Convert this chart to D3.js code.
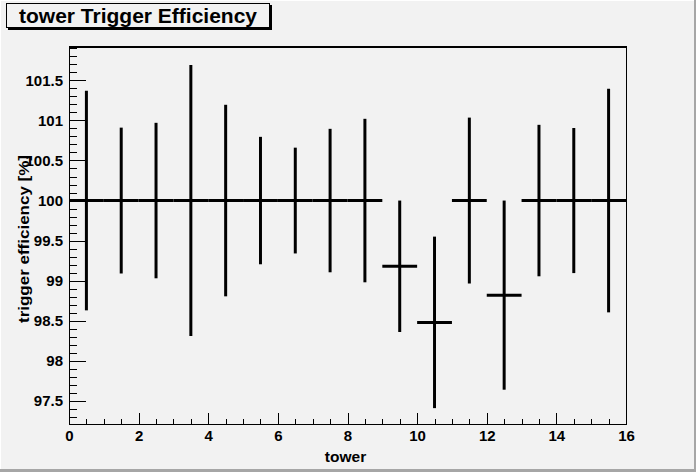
<!DOCTYPE html>
<html>
<head>
<meta charset="utf-8">
<script src="https://cdn.jsdelivr.net/npm/d3@7"></script>
<style>
  html, body { margin: 0; padding: 0; background: #f2f2f2; }
  svg { display: block; font-family: "Liberation Sans", Arial, Helvetica, sans-serif; font-weight: bold; }
</style>
</head>
<body>
<svg id="chart" width="696" height="472"></svg>
<script>
// ---- data ----
const binLow    = [0, 1, 2, 3, 4, 5, 6, 7, 8, 9, 10, 11, 12, 13, 14, 15];
const binCenter = [0.5, 1.5, 2.5, 3.5, 4.5, 5.5, 6.5, 7.5, 8.5, 9.5, 10.5, 11.5, 12.5, 13.5, 14.5, 15.5];
const efficiency = [100, 100, 100, 100, 100, 100, 100, 100, 100, 99.18, 98.48, 100, 98.82, 100, 100, 100];
const errors     = [1.37, 0.91, 0.97, 1.69, 1.195, 0.795, 0.66, 0.895, 1.02, 0.82, 1.07, 1.035, 1.18, 0.945, 0.905, 1.395];
const xMajorTicks = [0, 2, 4, 6, 8, 10, 12, 14, 16];
const xMinorTicks = [0.5, 1, 1.5, 2.5, 3, 3.5, 4.5, 5, 5.5, 6.5, 7, 7.5, 8.5, 9, 9.5, 10.5, 11, 11.5, 12.5, 13, 13.5, 14.5, 15, 15.5];
const yMajorTicks = [97.5, 98, 98.5, 99, 99.5, 100, 100.5, 101, 101.5];
const yMinorTicks = [97.3, 97.4, 97.6, 97.7, 97.8, 97.9, 98.1, 98.2, 98.3, 98.4, 98.6, 98.7, 98.8, 98.9,
                     99.1, 99.2, 99.3, 99.4, 99.6, 99.7, 99.8, 99.9, 100.1, 100.2, 100.3, 100.4,
                     100.6, 100.7, 100.8, 100.9, 101.1, 101.2, 101.3, 101.4, 101.6, 101.7, 101.8, 101.9];
const titleText = "tower Trigger Efficiency";
const xTitle = "tower";
const yTitle = "trigger efficiency [%]";

// ---- layout ----
const W = 696, H = 472;
const L = 69, R = 626, T = 47, B = 424;
const svg = d3.select("#chart");

// canvas background + bevel
svg.append("rect").attr("x", 0).attr("y", 0).attr("width", W).attr("height", H).attr("fill", "#f2f2f2");
svg.append("rect").attr("x", W - 2).attr("y", 0).attr("width", 2).attr("height", H).attr("fill", "#a6a6a6");
svg.append("rect").attr("x", 0).attr("y", H - 3).attr("width", W).attr("height", 3).attr("fill", "#a6a6a6");
svg.append("rect").attr("x", 0).attr("y", 0).attr("width", W - 2).attr("height", 1).attr("fill", "#ffffff");
svg.append("rect").attr("x", 0).attr("y", 0).attr("width", 1).attr("height", H - 3).attr("fill", "#ffffff");

const x = d3.scaleLinear().domain([0, 16]).range([L, R]);
const y = d3.scaleLinear().domain([97.212, 101.916]).range([B, T]);

// frame
svg.append("rect").attr("x", L).attr("y", T).attr("width", R - L).attr("height", B - T)
  .attr("fill", "none").attr("stroke", "#000").attr("stroke-width", 1).attr("shape-rendering", "crispEdges");
svg.append("line").attr("x1", L).attr("x2", R + 0.5).attr("y1", T).attr("y2", T)
  .attr("stroke", "#000").attr("stroke-width", 2).attr("shape-rendering", "crispEdges");

// axes
function styleAxis(g) {
  g.select(".domain").remove();
  g.selectAll(".tick line").attr("stroke", "#000").attr("stroke-width", 1).attr("shape-rendering", "crispEdges");
  g.selectAll(".tick text").attr("fill", "#000").attr("font-size", 15).attr("font-weight", "bold");
}
svg.append("g").attr("transform", `translate(0,${B})`)
  .call(d3.axisBottom(x).tickValues(xMajorTicks).tickSize(-11).tickPadding(6).tickFormat(d3.format("d")))
  .call(styleAxis);
svg.append("g").attr("transform", `translate(0,${B})`)
  .call(d3.axisBottom(x).tickValues(xMinorTicks).tickSize(-5.5).tickFormat(""))
  .call(styleAxis);
svg.append("g").attr("transform", `translate(${L},0)`)
  .call(d3.axisLeft(y).tickValues(yMajorTicks).tickSize(-17).tickPadding(6).tickFormat(d => String(d)))
  .call(styleAxis);
svg.append("g").attr("transform", `translate(${L},0)`)
  .call(d3.axisLeft(y).tickValues(yMinorTicks).tickSize(-8).tickFormat(""))
  .call(styleAxis);

// data: horizontal bin-width bars + vertical error bars
const marks = svg.append("g").attr("stroke", "#000").attr("stroke-width", 3);
marks.selectAll("line.h").data(binLow).join("line").attr("class", "h")
  .attr("x1", (d) => x(d)).attr("x2", (d) => x(d + 1))
  .attr("y1", (d, i) => y(efficiency[i])).attr("y2", (d, i) => y(efficiency[i]));
marks.selectAll("line.v").data(binCenter).join("line").attr("class", "v")
  .attr("x1", (d) => x(d)).attr("x2", (d) => x(d))
  .attr("y1", (d, i) => y(efficiency[i] + errors[i])).attr("y2", (d, i) => y(efficiency[i] - errors[i]));

// axis titles
svg.append("text").attr("x", 345.5).attr("y", 462).attr("text-anchor", "middle")
  .attr("font-size", 15.5).attr("fill", "#000").text(xTitle);
svg.append("text").attr("transform", `translate(29,239) rotate(-90)`).attr("text-anchor", "middle")
  .attr("font-size", 15.5).attr("textLength", 168).attr("lengthAdjust", "spacingAndGlyphs")
  .attr("fill", "#000").text(yTitle);

// title box with shadow
svg.append("rect").attr("x", 8).attr("y", 5).attr("width", 264).attr("height", 25).attr("fill", "#000");
svg.append("rect").attr("x", 6.5).attr("y", 3.5).attr("width", 263).attr("height", 24)
  .attr("fill", "#f2f2f2").attr("stroke", "#000").attr("stroke-width", 1);
svg.append("text").attr("x", 19).attr("y", 22.5)
  .attr("font-size", 20).attr("textLength", 238).attr("lengthAdjust", "spacingAndGlyphs")
  .attr("fill", "#000").text(titleText);
</script>
</body>
</html>
